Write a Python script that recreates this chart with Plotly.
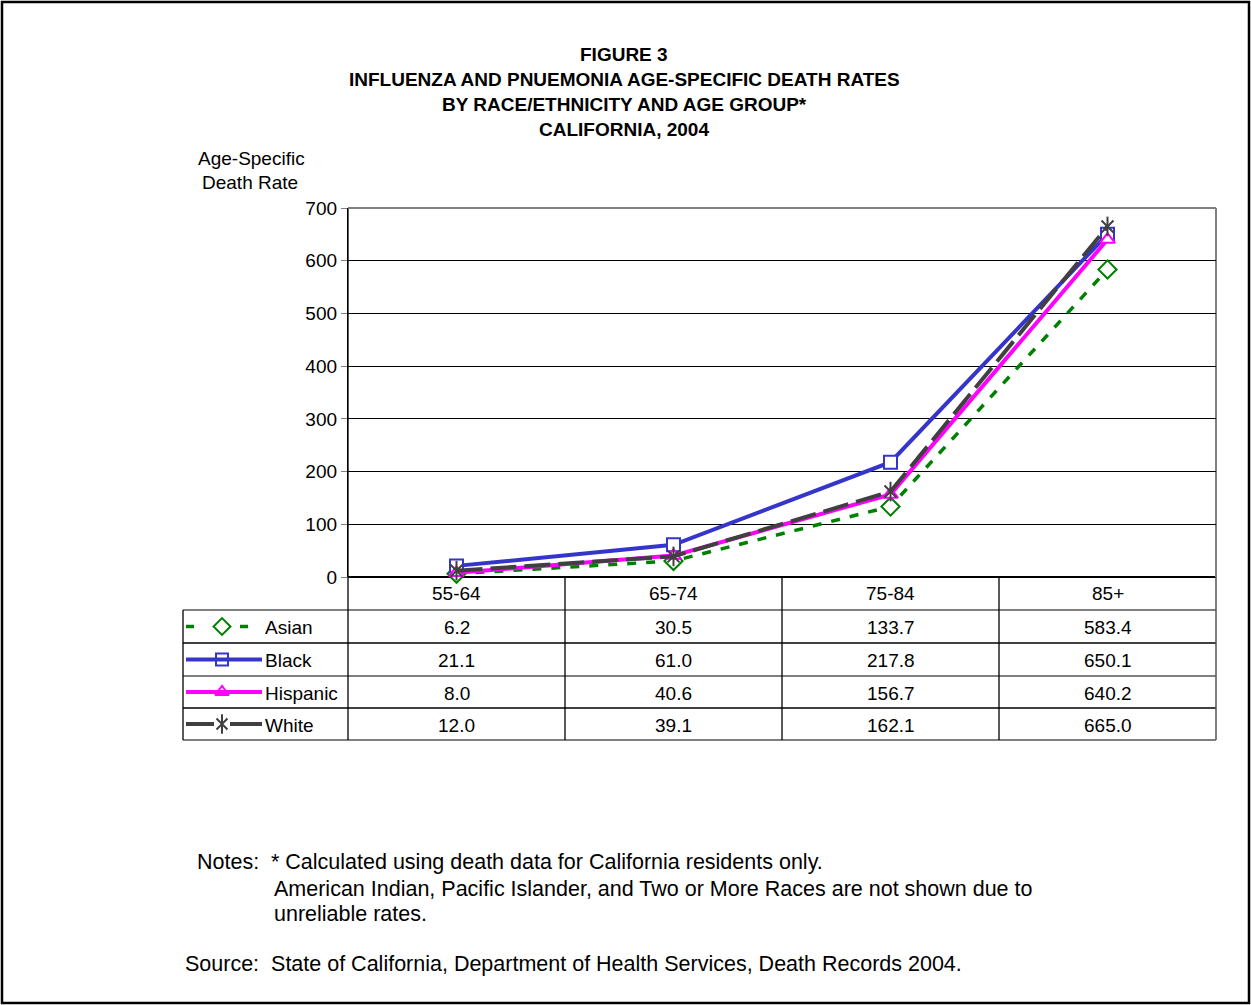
import plotly.graph_objects as go

# ---------------- data ----------------
categories = ["55-64", "65-74", "75-84", "85+"]
asian = [6.2, 30.5, 133.7, 583.4]
black = [21.1, 61.0, 217.8, 650.1]
hispanic = [8.0, 40.6, 156.7, 640.2]
white = [12.0, 39.1, 162.1, 665.0]
series_names = ["Asian", "Black", "Hispanic", "White"]
y_ticks = [0, 100, 200, 300, 400, 500, 600, 700]

title_lines = ["FIGURE 3",
               "INFLUENZA AND PNUEMONIA AGE-SPECIFIC DEATH RATES",
               "BY RACE/ETHNICITY AND AGE GROUP*",
               "CALIFORNIA, 2004"]

# ---------------- layout geometry (pixels) ----------------
W, H = 1251, 1005
PX0, PX1 = 348, 1216      # plot area x
PY0, PY1 = 208, 577       # plot area y (top, bottom)
TABLE_LEFT = 183
ROW_Y = [577, 610, 643, 676, 708, 740]

FONT = "Liberation Sans, Arial, sans-serif"
FS = 19
FS_NOTE = 21.5


def px(x):
    return x / W


def py(y):
    return 1 - y / H


styles = {
    "Asian": dict(color="#008000", dash="9px,10px", symbol="diamond", width=3.5, size=14),
    "Black": dict(color="#3535CC", dash="solid", symbol="square", width=4, size=13),
    "Hispanic": dict(color="#FF00FF", dash="solid", symbol="triangle-up", width=4, size=13),
    "White": dict(color="#404040", dash="26px,8px", symbol="x-thin-open", width=4, size=12),
}
data = {"Asian": asian, "Black": black, "Hispanic": hispanic, "White": white}


def marker_for(s):
    if s["symbol"].endswith("-open"):
        return dict(symbol=s["symbol"], size=s["size"], color=s["color"],
                    line=dict(color=s["color"], width=2))
    return dict(symbol=s["symbol"], size=s["size"], color="white",
                line=dict(color=s["color"], width=2))


fig = go.Figure()
xs = list(range(len(categories)))

for name in series_names:
    s = styles[name]
    fig.add_trace(go.Scatter(
        x=xs, y=data[name], mode="lines+markers", name=name,
        line=dict(color=s["color"], width=s["width"], dash=s["dash"]),
        marker=marker_for(s),
        cliponaxis=False, showlegend=False))
    if name == "White":
        fig.add_trace(go.Scatter(
            x=xs, y=data[name], mode="markers",
            marker=dict(symbol="line-ns-open", size=14, color=s["color"],
                        line=dict(color=s["color"], width=2)),
            cliponaxis=False, showlegend=False))

# legend samples inside table (overlay pixel axes)
leg_x0, leg_x1, leg_mx = 186, 262, 222
for i, name in enumerate(series_names):
    s = styles[name]
    yc = (ROW_Y[i + 1] + ROW_Y[i + 2]) / 2
    if name == "Asian":
        for a, b in [(186, 194), (240, 248)]:
            fig.add_shape(type="line", xref="paper", yref="paper",
                          x0=px(a), x1=px(b), y0=py(yc), y1=py(yc),
                          line=dict(color=s["color"], width=3.5))
    elif name == "White":
        for a, b in [(186, 214), (230, 262)]:
            fig.add_shape(type="line", xref="paper", yref="paper",
                          x0=px(a), x1=px(b), y0=py(yc), y1=py(yc),
                          line=dict(color=s["color"], width=4))
    else:
        fig.add_shape(type="line", xref="paper", yref="paper",
                      x0=px(leg_x0), x1=px(leg_x1), y0=py(yc), y1=py(yc),
                      line=dict(color=s["color"], width=4))
    legm = marker_for(s)
    legm["size"] = s["size"] - 1
    fig.add_trace(go.Scatter(
        x=[leg_mx], y=[yc], xaxis="x2", yaxis="y2", mode="markers",
        marker=legm, showlegend=False, hoverinfo="skip"))
    if name == "White":
        fig.add_trace(go.Scatter(
            x=[leg_mx], y=[yc], xaxis="x2", yaxis="y2", mode="markers",
            marker=dict(symbol="line-ns-open", size=14, color=s["color"],
                        line=dict(color=s["color"], width=2)),
            showlegend=False, hoverinfo="skip"))
    fig.add_annotation(xref="paper", yref="paper", x=px(263), y=py(yc + 1),
                       text=name, showarrow=False, xanchor="left", yanchor="middle",
                       font=dict(family=FONT, size=FS, color="black"))
    for j, v in enumerate(data[name]):
        fig.add_annotation(xref="x", yref="paper", x=j, y=py(yc + 1),
                           text=f"{v:.1f}", showarrow=False,
                           xanchor="center", yanchor="middle",
                           font=dict(family=FONT, size=FS, color="black"))

# category labels row
for j, c in enumerate(categories):
    fig.add_annotation(xref="x", yref="paper", x=j, y=py((ROW_Y[0] + ROW_Y[1]) / 2),
                       text=c, showarrow=False, xanchor="center", yanchor="middle",
                       font=dict(family=FONT, size=FS, color="black"))

shapes = []
# table horizontal lines
shapes.append(dict(type="line", xref="paper", yref="paper", x0=px(PX0), x1=px(PX1),
                   y0=py(ROW_Y[0]), y1=py(ROW_Y[0]), line=dict(color="black", width=2)))
for k, yy in enumerate(ROW_Y[1:]):
    shapes.append(dict(type="line", xref="paper", yref="paper", x0=px(TABLE_LEFT), x1=px(PX1),
                       y0=py(yy), y1=py(yy),
                       line=dict(color="#555555" if k % 2 == 0 else "black", width=1.3)))
# table vertical lines
col_x = [PX0 + (PX1 - PX0) * k / 4 for k in range(5)]
for xx in col_x[:-1]:
    shapes.append(dict(type="line", xref="paper", yref="paper", x0=px(xx), x1=px(xx),
                       y0=py(ROW_Y[0] if xx != PX0 else PY0), y1=py(ROW_Y[-1]),
                       line=dict(color="black", width=1.3)))
shapes.append(dict(type="line", xref="paper", yref="paper", x0=px(TABLE_LEFT), x1=px(TABLE_LEFT),
                   y0=py(ROW_Y[1]), y1=py(ROW_Y[-1]), line=dict(color="black", width=1.3)))
# plot area right border (gray) and continuing table right border
shapes.append(dict(type="line", xref="paper", yref="paper", x0=px(PX1), x1=px(PX1),
                   y0=py(PY0), y1=py(ROW_Y[0]), line=dict(color="#808080", width=2)))
shapes.append(dict(type="line", xref="paper", yref="paper", x0=px(PX1), x1=px(PX1),
                   y0=py(ROW_Y[0]), y1=py(ROW_Y[-1]), line=dict(color="#555555", width=1.5)))
# top border gray
shapes.append(dict(type="line", xref="paper", yref="paper", x0=px(PX0), x1=px(PX1),
                   y0=py(PY0), y1=py(PY0), line=dict(color="#808080", width=2)))
# outer frame
shapes.append(dict(type="rect", xref="paper", yref="paper", x0=px(2), x1=px(1249),
                   y0=py(2), y1=py(1003), line=dict(color="black", width=2.5)))
for s in shapes:
    fig.add_shape(layer="below", **s)

# title
for i, t in enumerate(title_lines):
    fig.add_annotation(xref="paper", yref="paper", x=px(624), y=py(55 + 25 * i),
                       text=f"<b>{t}</b>", showarrow=False, xanchor="center", yanchor="middle",
                       font=dict(family=FONT, size=19, color="black"))

# y axis title
for i, t in enumerate(["Age-Specific", "Death Rate"]):
    fig.add_annotation(xref="paper", yref="paper", x=px(251 + (-1 if i else 0)), y=py(158 + 24 * i),
                       text=t, showarrow=False, xanchor="center", yanchor="middle",
                       font=dict(family=FONT, size=FS, color="black"))

# notes
notes = [
    (195, 862, "Notes:"),
    (269, 862, "* Calculated using death data for California residents only."),
    (272, 889, "American Indian, Pacific Islander, and Two or More Races are not shown due to"),
    (272, 914, "unreliable rates."),
    (183, 964, "Source:&nbsp;&nbsp;State of California, Department of Health Services, Death Records 2004."),
]
for x, y, t in notes:
    fig.add_annotation(xref="paper", yref="paper", x=px(x), y=py(y), text=t,
                       showarrow=False, xanchor="left", yanchor="middle",
                       font=dict(family=FONT, size=FS_NOTE, color="black"))

fig.update_layout(
    width=W, height=H,
    margin=dict(l=0, r=0, t=0, b=0, autoexpand=False),
    paper_bgcolor="white", plot_bgcolor="rgba(0,0,0,0)",
    font=dict(family=FONT, size=FS, color="black"),
    xaxis=dict(domain=[px(PX0), px(PX1)], range=[-0.5, 3.5], showticklabels=False,
               showgrid=False, zeroline=False, showline=False, ticks=""),
    yaxis=dict(domain=[py(PY1), py(PY0)], range=[0, 700], tickvals=y_ticks,
               showgrid=True, gridcolor="black", gridwidth=1, zeroline=False,
               showline=True, linecolor="black", linewidth=1.3,
               ticks="outside", ticklen=6, tickcolor="#808080",
               tickfont=dict(family=FONT, size=FS, color="black")),
    xaxis2=dict(domain=[0, 1], range=[0, W], visible=False, anchor="y2"),
    yaxis2=dict(domain=[0, 1], range=[H, 0], visible=False, anchor="x2"),
    showlegend=False,
)

fig.write_html("out.html")
